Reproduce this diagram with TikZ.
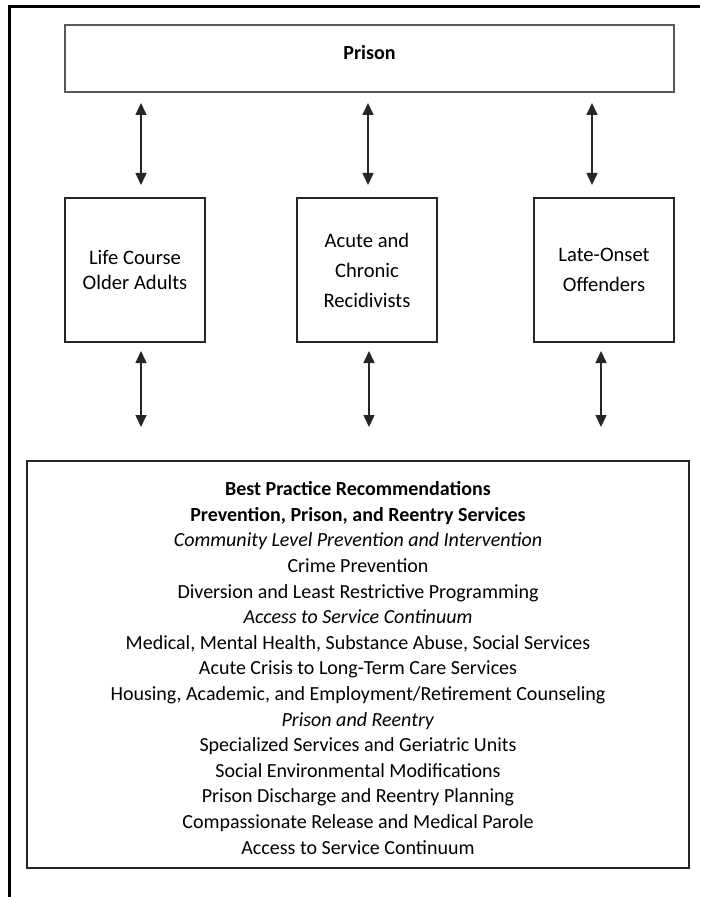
\documentclass[tikz,border=0pt]{standalone}
\usepackage{fontspec}
\setmainfont{Carlito}
\usetikzlibrary{arrows.meta,shadows}

\begin{document}
\begin{tikzpicture}[
            x=0.5pt, y=-0.5pt,
            >={Triangle[width=5.5pt,length=6pt]},
            frame/.style={line width=1.5pt, draw=black},
            prisonbox/.style={rectangle, draw=black!65, line width=1pt, minimum width=304.5pt, minimum height=33.5pt, inner sep=0pt},
            groupbox/.style={rectangle, draw=black!85, line width=0.75pt, minimum width=70pt, minimum height=72pt, align=center, font=\fontsize{10.3}{15}\selectfont},
            practicebox/.style={rectangle, draw=black!85, line width=0.75pt, fill=white, minimum width=331pt, minimum height=203.5pt, drop shadow={shadow xshift=0.6pt, shadow yshift=-0.6pt, fill=black!35, opacity=1}},
            practicetext/.style={align=center, font=\fontsize{10}{12.8}\selectfont},
            link/.style={<->, line width=0.75pt, draw=black!85}
        ]
        \useasboundingbox (0,0) rectangle (700,897);

        % ==========================================
        % OUTER FRAME (top and left edges only)
        % ==========================================
        \draw[frame] (9,897) -- (9,7) -- (700,7);

        % ==========================================
        % TOP: PRISON
        % ==========================================
        \node[prisonbox] (prison) at (369.5, 58.5) {};
        \node[anchor=north, yshift=-7pt, font=\fontsize{10}{12.8}\selectfont\bfseries] (prisontitle) at (prison.north) {Prison};

        % ==========================================
        % MIDDLE: OFFENDER GROUPS
        % ==========================================
        \node[groupbox] (lifecourse) at (135, 270) {Life Course\\[-2.5pt]Older Adults};
        \node[groupbox] (recidivists) at (367, 270) {Acute and\\Chronic\\Recidivists};
        \node[groupbox] (lateonset) at (604, 270) {Late-Onset\\Offenders};

        % Arrow end points (arrows float between the boxes)
        \coordinate (lifetop) at (141, 103);
        \coordinate (lifemid) at (141, 185);
        \coordinate (recitop) at (368, 103);
        \coordinate (recimid) at (368, 185);
        \coordinate (latetop) at (592, 103);
        \coordinate (latemid) at (592, 185);

        \coordinate (lifelow) at (141, 351);
        \coordinate (lifebot) at (141, 427);
        \coordinate (recilow) at (369, 351);
        \coordinate (recibot) at (369, 427);
        \coordinate (latelow) at (601, 351);
        \coordinate (latebot) at (601, 427);

        % Connections
        \draw[link] (lifetop) -- (lifemid);
        \draw[link] (recitop) -- (recimid);
        \draw[link] (latetop) -- (latemid);
        \draw[link] (lifelow) -- (lifebot);
        \draw[link] (recilow) -- (recibot);
        \draw[link] (latelow) -- (latebot);

        % ==========================================
        % BOTTOM: RECOMMENDATIONS
        % ==========================================
        \node[practicebox] (practice) at (358, 664.5) {};
        \node[practicetext] (practicelist) at (358, 668) {%
            \textbf{Best Practice Recommendations}\\
            \textbf{Prevention, Prison, and Reentry Services}\\
            \textit{Community Level Prevention and Intervention}\\
            Crime Prevention\\
            Diversion and Least Restrictive Programming\\
            \textit{Access to Service Continuum}\\
            Medical, Mental Health, Substance Abuse, Social Services\\
            Acute Crisis to Long-Term Care Services\\
            Housing, Academic, and Employment/Retirement Counseling\\
            \textit{Prison and Reentry}\\
            Specialized Services and Geriatric Units\\
            Social Environmental Modifications\\
            Prison Discharge and Reentry Planning\\
            Compassionate Release and Medical Parole\\
            Access to Service Continuum};

        \end{tikzpicture}
\end{document}
